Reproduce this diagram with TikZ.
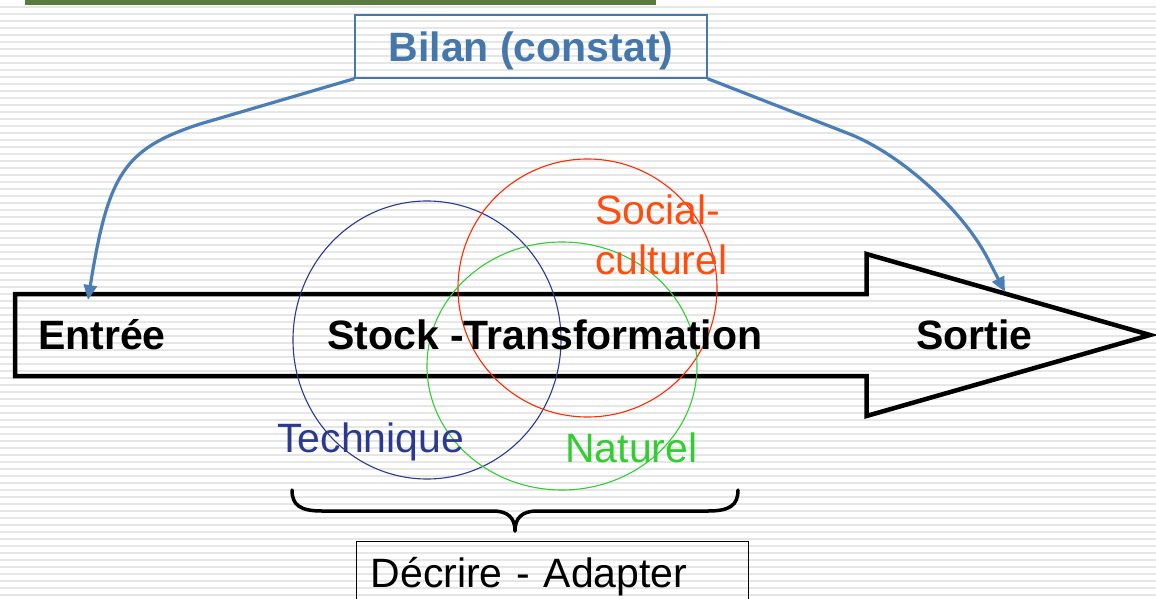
\documentclass[tikz,border=0pt]{standalone}
\usepackage{fontspec}
\setmainfont{Liberation Sans}
\usetikzlibrary{arrows.meta}
\definecolor{stripe}{HTML}{E6E6E6}
\definecolor{barGreen}{HTML}{5B7B3E}
\definecolor{linkBlue}{HTML}{4A7EB5}
\definecolor{titleBlue}{HTML}{4677AB}
\definecolor{navy}{HTML}{2B3A8E}
\definecolor{redRing}{HTML}{FF2A00}
\definecolor{orangeText}{HTML}{FF4D0D}
\definecolor{greenRing}{HTML}{33CC33}
\tikzset{
  lbl/.style={font=\fontsize{41}{50}\selectfont, inner sep=0pt},
  blbl/.style={font=\fontsize{41}{50}\selectfont\bfseries, inner sep=0pt},
  conn/.style={draw=linkBlue, line width=3.2pt, -{Triangle[length=15pt,width=13pt]}},
  ring/.style={line width=1.1pt},
  bigarrow/.style={draw=black, line width=4.5pt, miter limit=10},
  brace/.style={draw=black, line width=3.5pt, line cap=round},
}
\begin{document}
\begin{tikzpicture}[x=1pt,y=-1pt]
\clip (0,0) rectangle (1156,599);
\fill[white] (0,0) rectangle (1156,599);
% striped background
\foreach \k in {1,...,85}{
  \fill[stripe] (0,7*\k-1) rectangle (1156,7*\k+1);
}
% green bar
\fill[barGreen] (25,0) rectangle (656,5);

% big arrow
\draw[bigarrow] (15,294) -- (866.5,294) -- (866.5,254) -- (1150,335)
  -- (866.5,416) -- (866.5,376) -- (15,376) -- cycle;
\coordinate (tipL) at (88,300);
\coordinate (tipR) at (1005,292);

% circles
\draw[ring, draw=navy] (427,340) ellipse [x radius=134, y radius=139];
\draw[ring, draw=redRing] (587.5,288) ellipse [x radius=129.5, y radius=129];
\draw[ring, draw=greenRing] (562,366) ellipse [x radius=135, y radius=124];

% texts on the arrow
\node[blbl, anchor=base west] (entree) at (38,349) {Entrée};
\node[blbl, anchor=base west] (stock) at (327,349) {Stock -Transformation};
\node[blbl, anchor=base west] (sortie) at (916,349) {Sortie};

% circle labels
\node[lbl, text=navy, anchor=base west] (tech) at (277,452) {Technique};
\node[lbl, text=greenRing, anchor=base west] (nat) at (565,462) {Naturel};
\node[lbl, text=orangeText, anchor=base west, align=left] (soc) at (595,274) {Social-\\culturel};

% title box
\node[draw=titleBlue, line width=1.4pt, minimum width=352pt, minimum height=63pt,
      inner sep=0pt, text height=31pt, text depth=0pt, text=titleBlue,
      font=\fontsize{41}{50}\selectfont\bfseries] (bilan) at (531,46.5) {Bilan (constat)};

% connectors
\draw[conn] (bilan.south west) -- (200,124) .. controls (124,148.8) and (108.2,173.7) .. (tipL);
\draw[conn, rounded corners=100pt] (bilan.south east) -- (942,170) -- (tipR);

% brace
\draw[brace] (292,490) .. controls (292,505) and (300,511) .. (322,511) -- (493,511)
  .. controls (508,511) and (515,518) .. (515,531);
\draw[brace] (515,531) .. controls (515,518) and (522,511) .. (537,511) -- (708,511)
  .. controls (730,511) and (738,505) .. (738,490);

% bottom box
\node[draw=black, line width=1.2pt, anchor=north west, inner xsep=14pt, inner ysep=0pt,
      text width=364pt, align=left, text height=46pt, text depth=40pt,
      font=\fontsize{41}{50}\selectfont] (decrire) at (356,541) {Décrire - Adapter};
\end{tikzpicture}
\end{document}
